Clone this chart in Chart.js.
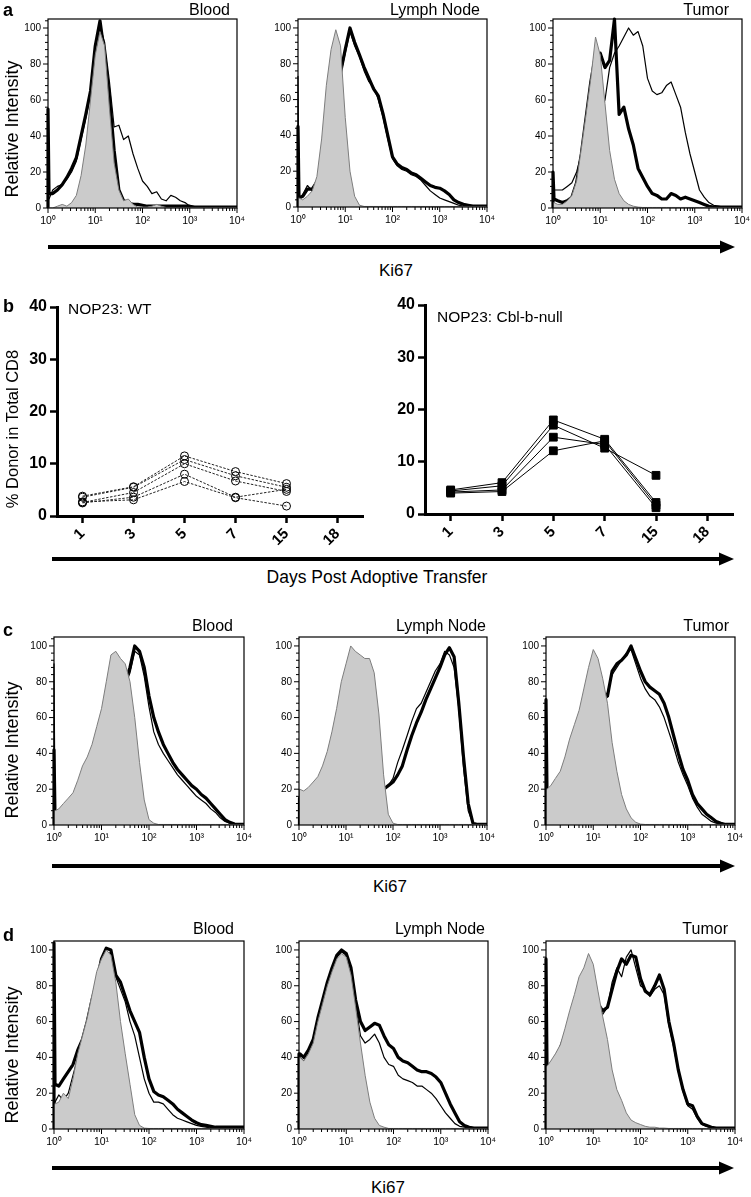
<!DOCTYPE html>
<html><head><meta charset="utf-8">
<script src="https://cdn.jsdelivr.net/npm/chart.js@4.4.1/dist/chart.umd.min.js"></script>
<style>
html,body{margin:0;padding:0;background:#fff;}
body{width:751px;height:1197px;position:relative;overflow:hidden;font-family:'Liberation Sans',Arial,Helvetica,sans-serif;color:#000;}
canvas{position:absolute;}
.t{position:absolute;white-space:nowrap;line-height:1;z-index:5;}
.c{transform:translate(-50%,-50%);}
.l{transform:translate(0,-50%);}
.r{transform:translate(-100%,-50%);}
.v{transform:translate(-50%,-50%) rotate(-90deg);}
.pl{font-weight:bold;font-size:18px;}
.ti{font-size:16px;}
.ax{font-size:18px;}
svg{position:absolute;left:0;top:0;}
</style></head><body>
<script>
// ---------- DATA ----------
// fluorescence bins (Ki67 channel): 1, 1.05, then every 0.1 decade up to 10^4
const BINS = [1, 1.05, 1.26, 1.58, 2, 2.51, 3.16, 3.98, 5.01, 6.31, 7.94, 10,
  12.6, 15.8, 20, 25.1, 31.6, 39.8, 50.1, 63.1, 79.4, 100,
  126, 158, 200, 251, 316, 398, 501, 631, 794, 1000,
  1259, 1585, 1995, 2512, 3162, 3981, 5012, 6310, 7943, 10000];
const X_TICKS = [1, 10, 100, 1000, 10000];
const X_TICK_LABELS = ['10\u2070', '10\u00b9', '10\u00b2', '10\u00b3', '10\u2074'];
const X_MINOR = [2,3,4,5,6,7,8,9,20,30,40,50,60,70,80,90,200,300,400,500,600,700,800,900,2000,3000,4000,5000,6000,7000,8000,9000];
const Y_TICKS = [0, 20, 40, 60, 80, 100];
const Y_MINOR = [4,8,12,16,24,28,32,36,44,48,52,56,64,68,72,76,84,88,92,96,104];

// panel a
const A_BLOOD_GRAY  = [0,0, 0,1,2,1,3,7,18,35,60,85, 98,90,55,25,10,4,5,2,0.5,0.5, 0.5,1,2,1,0.3,0.3,0.3,0.3,0.3,0.3, 0.3,0.3,0.3,0.3,0.3,0.3,0.3,0.3,0.3,0.3];
const A_BLOOD_THIN  = [5,5, 10,12,13,16,20,26,38,50,63,80, 101,92,70,45,46,38,40,30,22,15, 12,8,9,5,4,7,6,4,3,1, 0.5,0.5,0.5,0.5,0.5,0.5,0.5,0.5,0.5,0.5];
const A_BLOOD_THICK = [55,8, 8,10,13,17,22,28,40,52,65,90, 104,85,62,32,10,4,3,2,2,1.5, 1,1,1,1,1,1,1,1,1,1, 0.5,0.5,0.5,0.5,0.5,0.5,0.5,0.5,0.5,0.5];
const A_LN_GRAY     = [5,5, 4,6,9,17,38,68,88,99,90,50, 20,6,1,0.3,0.3,0.3,0.3,0.3,0.3,0.3, 0.3,0.3,0.3,0.3,0.3,0.3,0.3,0.3,0.3,0.3, 0.3,0.3,0.3,0.3,0.3,0.3,0.3,0.3,0.3,0.3];
const A_LN_THIN     = [73,4, 7,12,9,13,19,29,44,58,74,86, 98,90,84,76,70,67,60,50,38,27, 23,21,20,18,17,15,12,9,7,5, 4,3,2,1,0.5,0.5,0.5,0.5,0.5,0.5];
const A_LN_THICK    = [45,5, 6,10,10,14,20,30,45,60,75,88, 100,92,85,78,72,66,62,52,40,28, 24,22,21,19,18,16,14,12,11,10.5, 9,7,4,2.5,1.5,1,0.5,0.5,0.5,0.5];
const A_TUM_GRAY    = [3,3, 2,2,4,7,15,33,52,72,95,85, 58,32,16,8,4,2,1,0.5,0.3,0.3, 0.3,0.3,0.3,0.3,0.3,0.3,0.3,0.3,0.3,0.3, 0.3,0.3,0.3,0.3,0.3,0.3,0.3,0.3,0.3,0.3];
const A_TUM_THIN    = [5,10, 10,10,12,14,20,30,40,48,52,55, 60,78,86,90,95,100,96,98,90,72, 65,63,64,68,70,63,56,42,30,20, 10,6,3,1.5,1,0.5,0.5,0.5,0.5,0.5];
const A_TUM_THICK   = [20,5, 4,3,4,6,14,30,50,70,85,86, 78,82,105,52,56,44,35,22,17,12, 8,7,5,5,8,7,5,6,5,4, 3,2,1,0.5,0.5,0.5,0.5,0.5,0.5,0.5];

// panel c
const C_BLOOD_GRAY  = [8,8, 9,12,15,18,25,33,38,45,55,65, 80,95,97,93,90,80,60,35,14,3, 1,0.3,0.3,0.3,0.3,0.3,0.3,0.3,0.3,0.3, 0.3,0.3,0.3,0.3,0.3,0.3,0.3,0.3,0.3,0.3];
const C_BLOOD_THIN  = [90,5, 4,5,7,9,12,16,20,25,30,40, 50,60,70,74,78,85,97,95,83,66, 52,45,40,36,32,28,25,22,19,16, 14,12,9,7,4,2,1,0.5,0.3,0.3];
const C_BLOOD_THICK = [42,5, 4,5,7,9,12,16,20,25,30,40, 50,60,70,75,80,88,100,97,88,72, 60,52,45,40,35,31,28,25,22,20, 17,15,12,9,6,3,1.5,0.5,0.3,0.3];
const C_LN_GRAY     = [20,20, 19,21,24,27,33,41,52,65,80,90, 100,97,95,93,93,85,62,28,6,1, 0.3,0.3,0.3,0.3,0.3,0.3,0.3,0.3,0.3,0.3, 0.3,0.3,0.3,0.3,0.3,0.3,0.3,0.3,0.3,0.3];
const C_LN_THIN     = [15,15, 14,16,18,20,22,24,24,22,20,18, 18,18,18,18,18,18,19,20,22,26, 35,42,50,58,65,68,74,80,86,90, 97,95,88,65,32,8,1,0.3,0.3,0.3];
const C_LN_THICK    = [15,15, 14,16,18,20,22,24,24,22,20,18, 18,18,18,18,18,18,19,20,22,24, 28,33,42,50,57,63,70,76,82,88, 95,99,94,68,38,12,1,0.3,0.3,0.3];
const C_TUM_GRAY    = [20,20, 22,26,30,38,48,56,64,76,88,98, 93,82,68,46,30,17,9,4,1.5,0.5, 0.3,0.3,0.3,0.3,0.3,0.3,0.3,0.3,0.3,0.3, 0.3,0.3,0.3,0.3,0.3,0.3,0.3,0.3,0.3,0.3];
const C_TUM_THIN    = [18,18, 18,20,22,26,30,36,42,48,55,62, 66,70,74,84,88,92,96,98,90,82, 76,72,70,66,60,52,44,35,28,22, 15,10,6,4,2,1,0.5,0.3,0.3,0.3];
const C_TUM_THICK   = [70,18, 18,20,22,26,30,36,42,48,55,62, 66,70,72,86,90,92,95,100,93,86, 80,77,75,73,68,60,50,40,31,25, 17,12,9,6,4,2,1,0.3,0.3,0.3];

// panel d
const D_BLOOD_GRAY  = [14,14, 15,20,17,28,42,52,62,75,88,95, 100,97,82,60,42,25,8,2,0.5,0.3, 0.3,0.3,0.3,0.3,0.3,0.3,0.3,0.3,0.3,0.3, 0.3,0.3,0.3,0.3,0.3,0.3,0.3,0.3,0.3,0.3];
const D_BLOOD_THIN  = [15,15, 19,16,20,30,40,50,58,72,85,95, 99,98,85,78,71,60,52,40,28,20, 15,15,14,11,8,6,5,4,3,2, 1.5,1,0.5,0.5,0.5,0.5,0.5,0.5,0.5,0.5];
const D_BLOOD_THICK = [104,25, 24,28,32,36,44,50,60,72,82,95, 101,100,86,82,74,66,60,54,40,28, 21,19,18,16,14,11,9,7,5,3.5, 2.4,2,1.5,1,1,1,1,1,1,1];
const D_LN_GRAY     = [40,40, 38,42,48,60,70,80,88,95,98,96, 86,68,48,30,15,6,2,1,0.3,0.3, 0.3,0.3,0.3,0.3,0.3,0.3,0.3,0.3,0.3,0.3, 0.3,0.3,0.3,0.3,0.3,0.3,0.3,0.3,0.3,0.3];
const D_LN_THIN     = [40,40, 38,42,48,60,70,80,88,96,99,97, 88,70,52,48,50,53,48,40,36,35, 30,28,27,26,24,24,22,20,17,13, 9,6,3,1.5,1,0.5,0.5,0.5,0.5,0.5];
const D_LN_THICK    = [42,42, 40,44,50,62,72,82,90,97,100,98, 90,72,60,55,57,59,58,52,47,45, 40,38,37,35,33,32,32,31,29,26, 20,14,9,4,2,1,0.5,0.5,0.5,0.5];
const D_TUM_GRAY    = [35,35, 38,42,47,56,66,75,85,90,98,92, 77,63,50,33,22,16,9,5,3.5,2.5, 1.5,1,1,0.5,0.5,0.3,0.3,0.3,0.3,0.3, 0.3,0.3,0.3,0.3,0.3,0.3,0.3,0.3,0.3,0.3];
const D_TUM_THIN    = [35,35, 36,40,45,52,60,68,76,80,82,78, 70,64,68,82,90,85,96,100,90,80, 78,74,78,80,75,58,46,32,21,13, 11,6,2.5,1.5,1,0.5,0.5,0.5,0.5,0.5];
const D_TUM_THICK   = [95,35, 36,40,45,52,60,68,76,80,82,78, 70,66,68,78,88,95,92,97,96,84, 77,75,80,86,78,60,48,33,22,14, 13,7,3,2,1,0.5,0.5,0.5,0.5,0.5];

// panel b
const DAYS = ['1', '3', '5', '7', '15', '18'];
const B_Y_TICKS = [0, 10, 20, 30, 40];
const WT_1 = [3.8, 5.6, 11.5, 8.5, 6.2, null];
const WT_2 = [3.6, 5.5, 10.8, 7.7, 5.5, null];
const WT_3 = [2.6, 4.5, 10.0, 6.7, 4.7, null];
const WT_4 = [2.5, 3.6, 8.0, 3.6, 5.1, null];
const WT_5 = [2.7, 3.1, 6.6, 3.5, 1.9, null];
const CBL_1 = [4.6, 6.0, 18.0, 14.3, 2.2, null];
const CBL_2 = [4.4, 5.4, 17.0, 12.6, 7.4, null];
const CBL_3 = [4.2, 4.6, 14.7, 13.3, 1.2, null];
const CBL_4 = [4.0, 4.3, 12.1, 14.0, 1.7, null];
</script>

<div class="t pl l" style="left:3px;top:10px">a</div>
<div class="t pl l" style="left:3px;top:306px">b</div>
<div class="t pl l" style="left:3px;top:630px">c</div>
<div class="t pl l" style="left:3px;top:935px">d</div>

<div class="t ti r" style="left:230px;top:10px">Blood</div>
<div class="t ti r" style="left:480px;top:10px">Lymph Node</div>
<div class="t ti r" style="left:729px;top:10px">Tumor</div>
<div class="t ti r" style="left:233px;top:626px">Blood</div>
<div class="t ti r" style="left:486px;top:626px">Lymph Node</div>
<div class="t ti r" style="left:729px;top:626px">Tumor</div>
<div class="t ti r" style="left:234px;top:929px">Blood</div>
<div class="t ti r" style="left:485px;top:929px">Lymph Node</div>
<div class="t ti r" style="left:728px;top:929px">Tumor</div>

<div class="t ax v" style="left:12px;top:129px">Relative Intensity</div>
<div class="t ax v" style="left:12px;top:750px">Relative Intensity</div>
<div class="t ax v" style="left:12px;top:1055px">Relative Intensity</div>
<div class="t v" style="left:12px;top:429px;font-size:16.5px">% Donor in Total CD8</div>

<div class="t l" style="left:68px;top:309px;font-size:15.5px">NOP23: WT</div>
<div class="t l" style="left:437px;top:317px;font-size:15.5px">NOP23: Cbl-b-null</div>

<div class="t c" style="left:396px;top:270px;font-size:17px">Ki67</div>
<div class="t c" style="left:377px;top:578px;font-size:17.5px">Days Post Adoptive Transfer</div>
<div class="t c" style="left:390px;top:886px;font-size:17px">Ki67</div>
<div class="t c" style="left:388px;top:1187px;font-size:17px">Ki67</div>

<svg width="751" height="1197" viewBox="0 0 751 1197">
  <g stroke="#000" stroke-width="4">
    <line x1="48" y1="247" x2="722" y2="247"/>
    <line x1="52" y1="559" x2="722" y2="559"/>
    <line x1="52" y1="866" x2="722" y2="866"/>
    <line x1="52" y1="1168" x2="722" y2="1168"/>
  </g>
  <g fill="#000">
    <polygon points="735,247 720,240.5 720,253.5"/>
    <polygon points="734,559 719,552.5 719,565.5"/>
    <polygon points="735,866 720,859.5 720,872.5"/>
    <polygon points="734,1168 719,1161.5 719,1174.5"/>
  </g>
</svg>

<script>
Chart.defaults.font.family = "'Liberation Sans', Arial, Helvetica, sans-serif";
Chart.defaults.color = '#000';

const framePlugin = {
  id: 'frame',
  afterDraw(chart) {
    const {ctx, chartArea: a, scales: {x, y}} = chart;
    ctx.save();
    ctx.strokeStyle = '#000';
    ctx.lineWidth = 1.2;
    ctx.strokeRect(a.left, a.top, a.right - a.left, a.bottom - a.top);
    ctx.lineWidth = 1;
    ctx.beginPath();
    X_TICKS.forEach(v => { const p = x.getPixelForValue(v); ctx.moveTo(p, a.bottom); ctx.lineTo(p, a.bottom + 5); });
    X_MINOR.forEach(v => { const p = x.getPixelForValue(v); ctx.moveTo(p, a.bottom); ctx.lineTo(p, a.bottom + 3); });
    Y_TICKS.forEach(v => { const p = y.getPixelForValue(v); ctx.moveTo(a.left, p); ctx.lineTo(a.left - 5, p); });
    Y_MINOR.forEach(v => { const p = y.getPixelForValue(v); ctx.moveTo(a.left, p); ctx.lineTo(a.left - 3, p); });
    ctx.stroke();
    ctx.restore();
  }
};

function addCanvas(left, top, w, h) {
  const cv = document.createElement('canvas');
  cv.width = w; cv.height = h;
  cv.style.left = left + 'px'; cv.style.top = top + 'px';
  cv.style.width = w + 'px'; cv.style.height = h + 'px';
  document.body.appendChild(cv);
  return cv;
}

function hist(box, gray, thin, thick) {
  const PL = 45, PT = 12, PR = 12, PB = 24;
  const cv = addCanvas(box.l - PL, box.t - PT, box.r - box.l + PL + PR, box.b - box.t + PT + PB);
  const pts = arr => [{x: BINS[0], y: 0}].concat(BINS.map((x, i) => ({x: x, y: arr[i]})));
  const clip = {left: 3, top: 3, right: 0, bottom: 0};
  new Chart(cv, {
    type: 'line',
    data: {datasets: [
      {data: pts(gray), fill: 'origin', backgroundColor: '#cbcbcb', borderColor: '#7d7d7d', borderWidth: 1, pointRadius: 0, order: 0},
      {data: pts(thin), fill: false, borderColor: '#000', borderWidth: 1.2, pointRadius: 0, order: 1, clip: clip},
      {data: pts(thick), fill: false, borderColor: '#000', borderWidth: 3.2, pointRadius: 0, order: 2, clip: clip}
    ]},
    options: {
      responsive: false, animation: false, devicePixelRatio: 1,
      layout: {padding: {left: 0, top: PT, right: PR, bottom: 0}},
      plugins: {legend: {display: false}, tooltip: {enabled: false}},
      elements: {line: {tension: 0, borderJoinStyle: 'round'}},
      scales: {
        x: {
          type: 'logarithmic', min: 1, max: 10000,
          afterBuildTicks: s => { s.ticks = X_TICKS.map(v => ({value: v})); },
          afterFit: s => { s.height = PB; },
          grid: {display: false, drawTicks: true, tickLength: 5},
          border: {display: false},
          ticks: {autoSkip: false, maxRotation: 0, padding: 2, font: {size: 10.5}, color: '#000',
            callback: (v, i) => X_TICK_LABELS[i]}
        },
        y: {
          min: 0, max: 105,
          afterBuildTicks: s => { s.ticks = Y_TICKS.map(v => ({value: v})); },
          afterFit: s => { s.width = PL; },
          grid: {display: false, drawTicks: true, tickLength: 5},
          border: {display: false},
          ticks: {padding: 2, font: {size: 10}, color: '#000'}
        }
      }
    },
    plugins: [framePlugin]
  });
}

function days(box, series, filled) {
  const PL = 45, PT = 14, PR = 10, PB = 45;
  const cv = addCanvas(box.l - PL, box.t - PT, box.r - box.l + PL + PR, box.b - box.t + PT + PB);
  new Chart(cv, {
    type: 'line',
    data: {labels: DAYS, datasets: series.map(s => ({
      data: s, fill: false, spanGaps: false,
      borderColor: filled ? '#000' : '#222', borderWidth: 1,
      borderDash: filled ? [] : [2.5, 1.5],
      pointStyle: filled ? 'rect' : 'circle',
      pointRadius: filled ? 5.5 : 4,
      pointBackgroundColor: filled ? '#000' : 'rgba(255,255,255,0)',
      pointBorderColor: '#000', pointBorderWidth: 1
    }))},
    options: {
      responsive: false, animation: false, devicePixelRatio: 1,
      layout: {padding: {left: 0, top: PT, right: PR, bottom: 0}},
      plugins: {legend: {display: false}, tooltip: {enabled: false}},
      elements: {line: {tension: 0}},
      scales: {
        x: {
          type: 'category', offset: true,
          afterFit: s => { s.height = PB; },
          grid: {display: true, drawOnChartArea: false, drawTicks: true, tickLength: 7, offset: false, tickColor: '#000', tickWidth: 2.5},
          border: {display: true, color: '#000', width: 3},
          ticks: {minRotation: 45, maxRotation: 45, autoSkip: false, padding: 2, font: {size: 15, weight: 'bold'}, color: '#000'}
        },
        y: {
          min: 0, max: 40,
          afterBuildTicks: s => { s.ticks = B_Y_TICKS.map(v => ({value: v})); },
          afterFit: s => { s.width = PL; },
          grid: {display: true, drawOnChartArea: false, drawTicks: true, tickLength: 7, tickColor: '#000', tickWidth: 2.5},
          border: {display: true, color: '#000', width: 3},
          ticks: {padding: 3, font: {size: 16, weight: 'bold'}, color: '#000'}
        }
      }
    }
  });
}

hist({l: 48, t: 19, r: 237, b: 208}, A_BLOOD_GRAY, A_BLOOD_THIN, A_BLOOD_THICK);
hist({l: 298, t: 19, r: 487, b: 207}, A_LN_GRAY, A_LN_THIN, A_LN_THICK);
hist({l: 553, t: 19, r: 742, b: 208}, A_TUM_GRAY, A_TUM_THIN, A_TUM_THICK);

days({l: 57, t: 307, r: 363, b: 516}, [WT_1, WT_2, WT_3, WT_4, WT_5], false);
days({l: 425, t: 305, r: 733, b: 514}, [CBL_1, CBL_2, CBL_3, CBL_4], true);

hist({l: 54, t: 637, r: 244, b: 825}, C_BLOOD_GRAY, C_BLOOD_THIN, C_BLOOD_THICK);
hist({l: 299, t: 637, r: 487, b: 825}, C_LN_GRAY, C_LN_THIN, C_LN_THICK);
hist({l: 546, t: 637, r: 735, b: 825}, C_TUM_GRAY, C_TUM_THIN, C_TUM_THICK);

hist({l: 54, t: 941, r: 244, b: 1129}, D_BLOOD_GRAY, D_BLOOD_THIN, D_BLOOD_THICK);
hist({l: 299, t: 941, r: 488, b: 1129}, D_LN_GRAY, D_LN_THIN, D_LN_THICK);
hist({l: 546, t: 941, r: 735, b: 1129}, D_TUM_GRAY, D_TUM_THIN, D_TUM_THICK);
</script>
</body></html>
